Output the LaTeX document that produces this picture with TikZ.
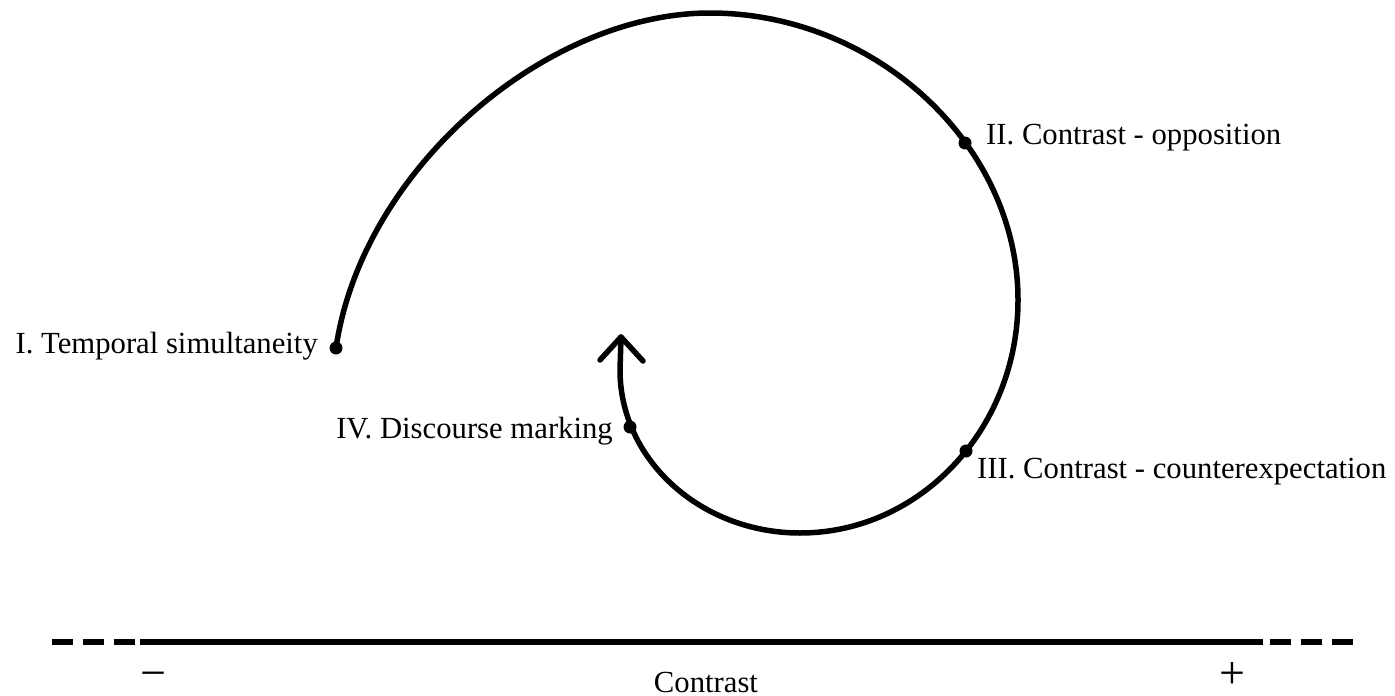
\documentclass[tikz,border=0pt]{standalone}
\usepackage{fontspec}
\setmainfont{Liberation Serif}
\begin{document}
\begin{tikzpicture}[x=1pt,y=-1pt,
  curveline/.style={line width=5.5pt,line cap=round,line join=round},
  stagedot/.style={circle,fill=black,inner sep=0pt,minimum size=13pt},
  lbl/.style={inner sep=0pt,font=\fontsize{30.7}{36}\selectfont},
  signlbl/.style={inner sep=0pt,anchor=base,font=\fontsize{46}{50}\selectfont},
  axisline/.style={line width=5.5pt}]
\useasboundingbox (0,0) rectangle (1395,696);
% spiral
\coordinate (s0) at (336,348);
\coordinate (s1) at (710,13);
\coordinate (s2) at (1018,300);
\coordinate (s3) at (800,533);
\coordinate (s4) at (620,370);
\coordinate (tip) at (621,337);
\draw[curveline] (s0) .. controls (362,170) and (545,13) .. (s1)
  .. controls (876,13) and (1018,145) .. (s2)
  .. controls (1018,429) and (920,533) .. (s3)
  .. controls (701,533) and (620,460) .. (s4) -- (tip);
\coordinate (armL) at (600,360);
\coordinate (armR) at (643,361);
\draw[curveline] (armL) -- (tip) -- (armR);
% stages
\node[stagedot] (d1) at (336,348) {};
\node[stagedot] (d2) at (965,143) {};
\node[stagedot] (d3) at (966,451) {};
\node[stagedot] (d4) at (630,427) {};
\node[lbl,anchor=base east] (l1) at (318,353) {I. Temporal simultaneity};
\node[lbl,anchor=base west] (l2) at (986,144) {II. Contrast - opposition};
\node[lbl,anchor=base west] (l3) at (977,478) {III. Contrast - counterexpectation};
\node[lbl,anchor=base east] (l4) at (613,438) {IV. Discourse marking};
% axis
\coordinate (aL0) at (52,642);
\coordinate (aL1) at (140,642);
\coordinate (aR1) at (1263,642);
\coordinate (aR2) at (1270,642);
\coordinate (aR3) at (1353,642);
\draw[axisline,dash pattern=on 21pt off 10pt] (aL0) -- (aL1);
\draw[axisline] (aL1) -- (aR1);
\draw[axisline,dash pattern=on 21pt off 10pt] (aR2) -- (aR3);
\node[signlbl] (minus) at (153,688) {\char"2212};
\node[signlbl] (plus) at (1232,688) {+};
\node[lbl,anchor=base] (ax) at (706,692) {Contrast};
\end{tikzpicture}
\end{document}
